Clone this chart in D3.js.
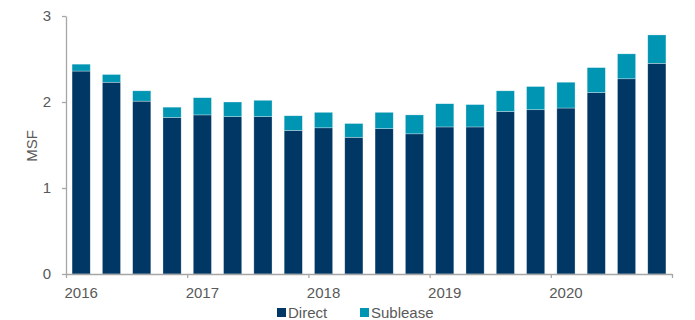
<!DOCTYPE html>
<html>
<head>
<meta charset="utf-8">
<script src="https://cdn.jsdelivr.net/npm/d3@7"></script>
<style>
  body { margin: 0; background: #fff; }
  text { font-family: "Liberation Sans", Arial, sans-serif; }
</style>
</head>
<body>
<div class="chart"></div>
<script>
// quarterly data, 2016 Q1 - 2020 Q4
var quarters = ["2016 Q1", "2016 Q2", "2016 Q3", "2016 Q4",
                "2017 Q1", "2017 Q2", "2017 Q3", "2017 Q4",
                "2018 Q1", "2018 Q2", "2018 Q3", "2018 Q4",
                "2019 Q1", "2019 Q2", "2019 Q3", "2019 Q4",
                "2020 Q1", "2020 Q2", "2020 Q3", "2020 Q4"];
var years = ["2016", "2017", "2018", "2019", "2020"];
var direct = [2.36, 2.23, 2.01, 1.82, 1.85, 1.83, 1.83, 1.67, 1.70, 1.59,
              1.69, 1.63, 1.71, 1.71, 1.89, 1.91, 1.93, 2.11, 2.27, 2.45];
var sublease = [0.08, 0.09, 0.12, 0.12, 0.20, 0.17, 0.19, 0.17, 0.18, 0.16,
                0.19, 0.22, 0.27, 0.26, 0.24, 0.27, 0.30, 0.29, 0.29, 0.33];
var yTicks = [0, 1, 2, 3];
var seriesNames = ["Direct", "Sublease"];

var W = 695, H = 320;
var margin = {top: 16, right: 23, bottom: 46, left: 66};
var colors = {Direct: "#003764", Sublease: "#0095b3"};
var axisColor = "#a6a6a6", textColor = "#595959";

var svg = d3.select(".chart").append("svg")
    .attr("width", W)
    .attr("height", H);

var x = d3.scaleBand()
    .domain(quarters)
    .range([margin.left, W - margin.right])
    .paddingInner(0.4)
    .paddingOuter(0.2);

var y = d3.scaleLinear()
    .domain([0, 3])
    .range([H - margin.bottom, margin.top]);

// stack the two series
var rows = quarters.map(function(q, i) {
  return {q: q, Direct: direct[i], Sublease: sublease[i]};
});
var stack = d3.stack().keys(seriesNames)(rows);

svg.append("g").selectAll("g")
  .data(stack).enter()
  .append("g")
    .attr("fill", function(d) { return colors[d.key]; })
  .selectAll("rect")
  .data(function(d) { return d; }).enter()
  .append("rect")
    .attr("x", function(d) { return x(d.data.q); })
    .attr("width", x.bandwidth())
    .attr("y", function(d) { return y(d[1]); })
    .attr("height", function(d) { return y(d[0]) - y(d[1]); })
    .attr("stroke", "#ffffff")
    .attr("stroke-opacity", 0.5)
    .attr("stroke-width", 0.6);

// y axis
var yAxis = svg.append("g")
    .attr("transform", "translate(" + margin.left + ",0)")
    .call(d3.axisLeft(y).tickValues(yTicks).tickFormat(d3.format("d"))
      .tickSize(4).tickSizeOuter(0).tickPadding(11));
yAxis.selectAll("text").attr("fill", textColor).style("font-size", "15px");

// x axis: ticks at year boundaries, labels under first quarter
var xLin = d3.scaleLinear().domain([0, quarters.length])
    .range([margin.left, W - margin.right]);
var xAxis = svg.append("g")
    .attr("transform", "translate(0," + (H - margin.bottom) + ")")
    .call(d3.axisBottom(xLin).tickValues(d3.range(0, quarters.length + 1, 4))
      .tickFormat("").tickSize(4).tickSizeOuter(0));

[yAxis, xAxis].forEach(function(a) {
  a.selectAll("path, line").attr("stroke", axisColor).attr("stroke-width", 1.3);
});

svg.append("g").selectAll("text")
  .data(years).enter()
  .append("text")
    .attr("x", function(d) { return x(d + " Q1") + x.bandwidth() / 2; })
    .attr("y", H - margin.bottom + 24)
    .attr("text-anchor", "middle")
    .attr("fill", textColor)
    .style("font-size", "15px")
    .text(function(d) { return d; });

// y label
svg.append("text")
    .attr("transform", "translate(37,146) rotate(-90)")
    .attr("text-anchor", "middle")
    .attr("fill", textColor)
    .style("font-size", "15px")
    .text("MSF");

// legend
var legend = svg.append("g").selectAll("g")
  .data(seriesNames).enter()
  .append("g")
    .attr("transform", function(d, i) { return "translate(" + [277, 360][i] + ",308)"; });
legend.append("rect")
    .attr("width", 9)
    .attr("height", 9)
    .attr("fill", function(d) { return colors[d]; });
legend.append("text")
    .attr("x", 11)
    .attr("y", 10)
    .attr("fill", textColor)
    .style("font-size", "15px")
    .text(function(d) { return d; });
</script>
</body>
</html>
